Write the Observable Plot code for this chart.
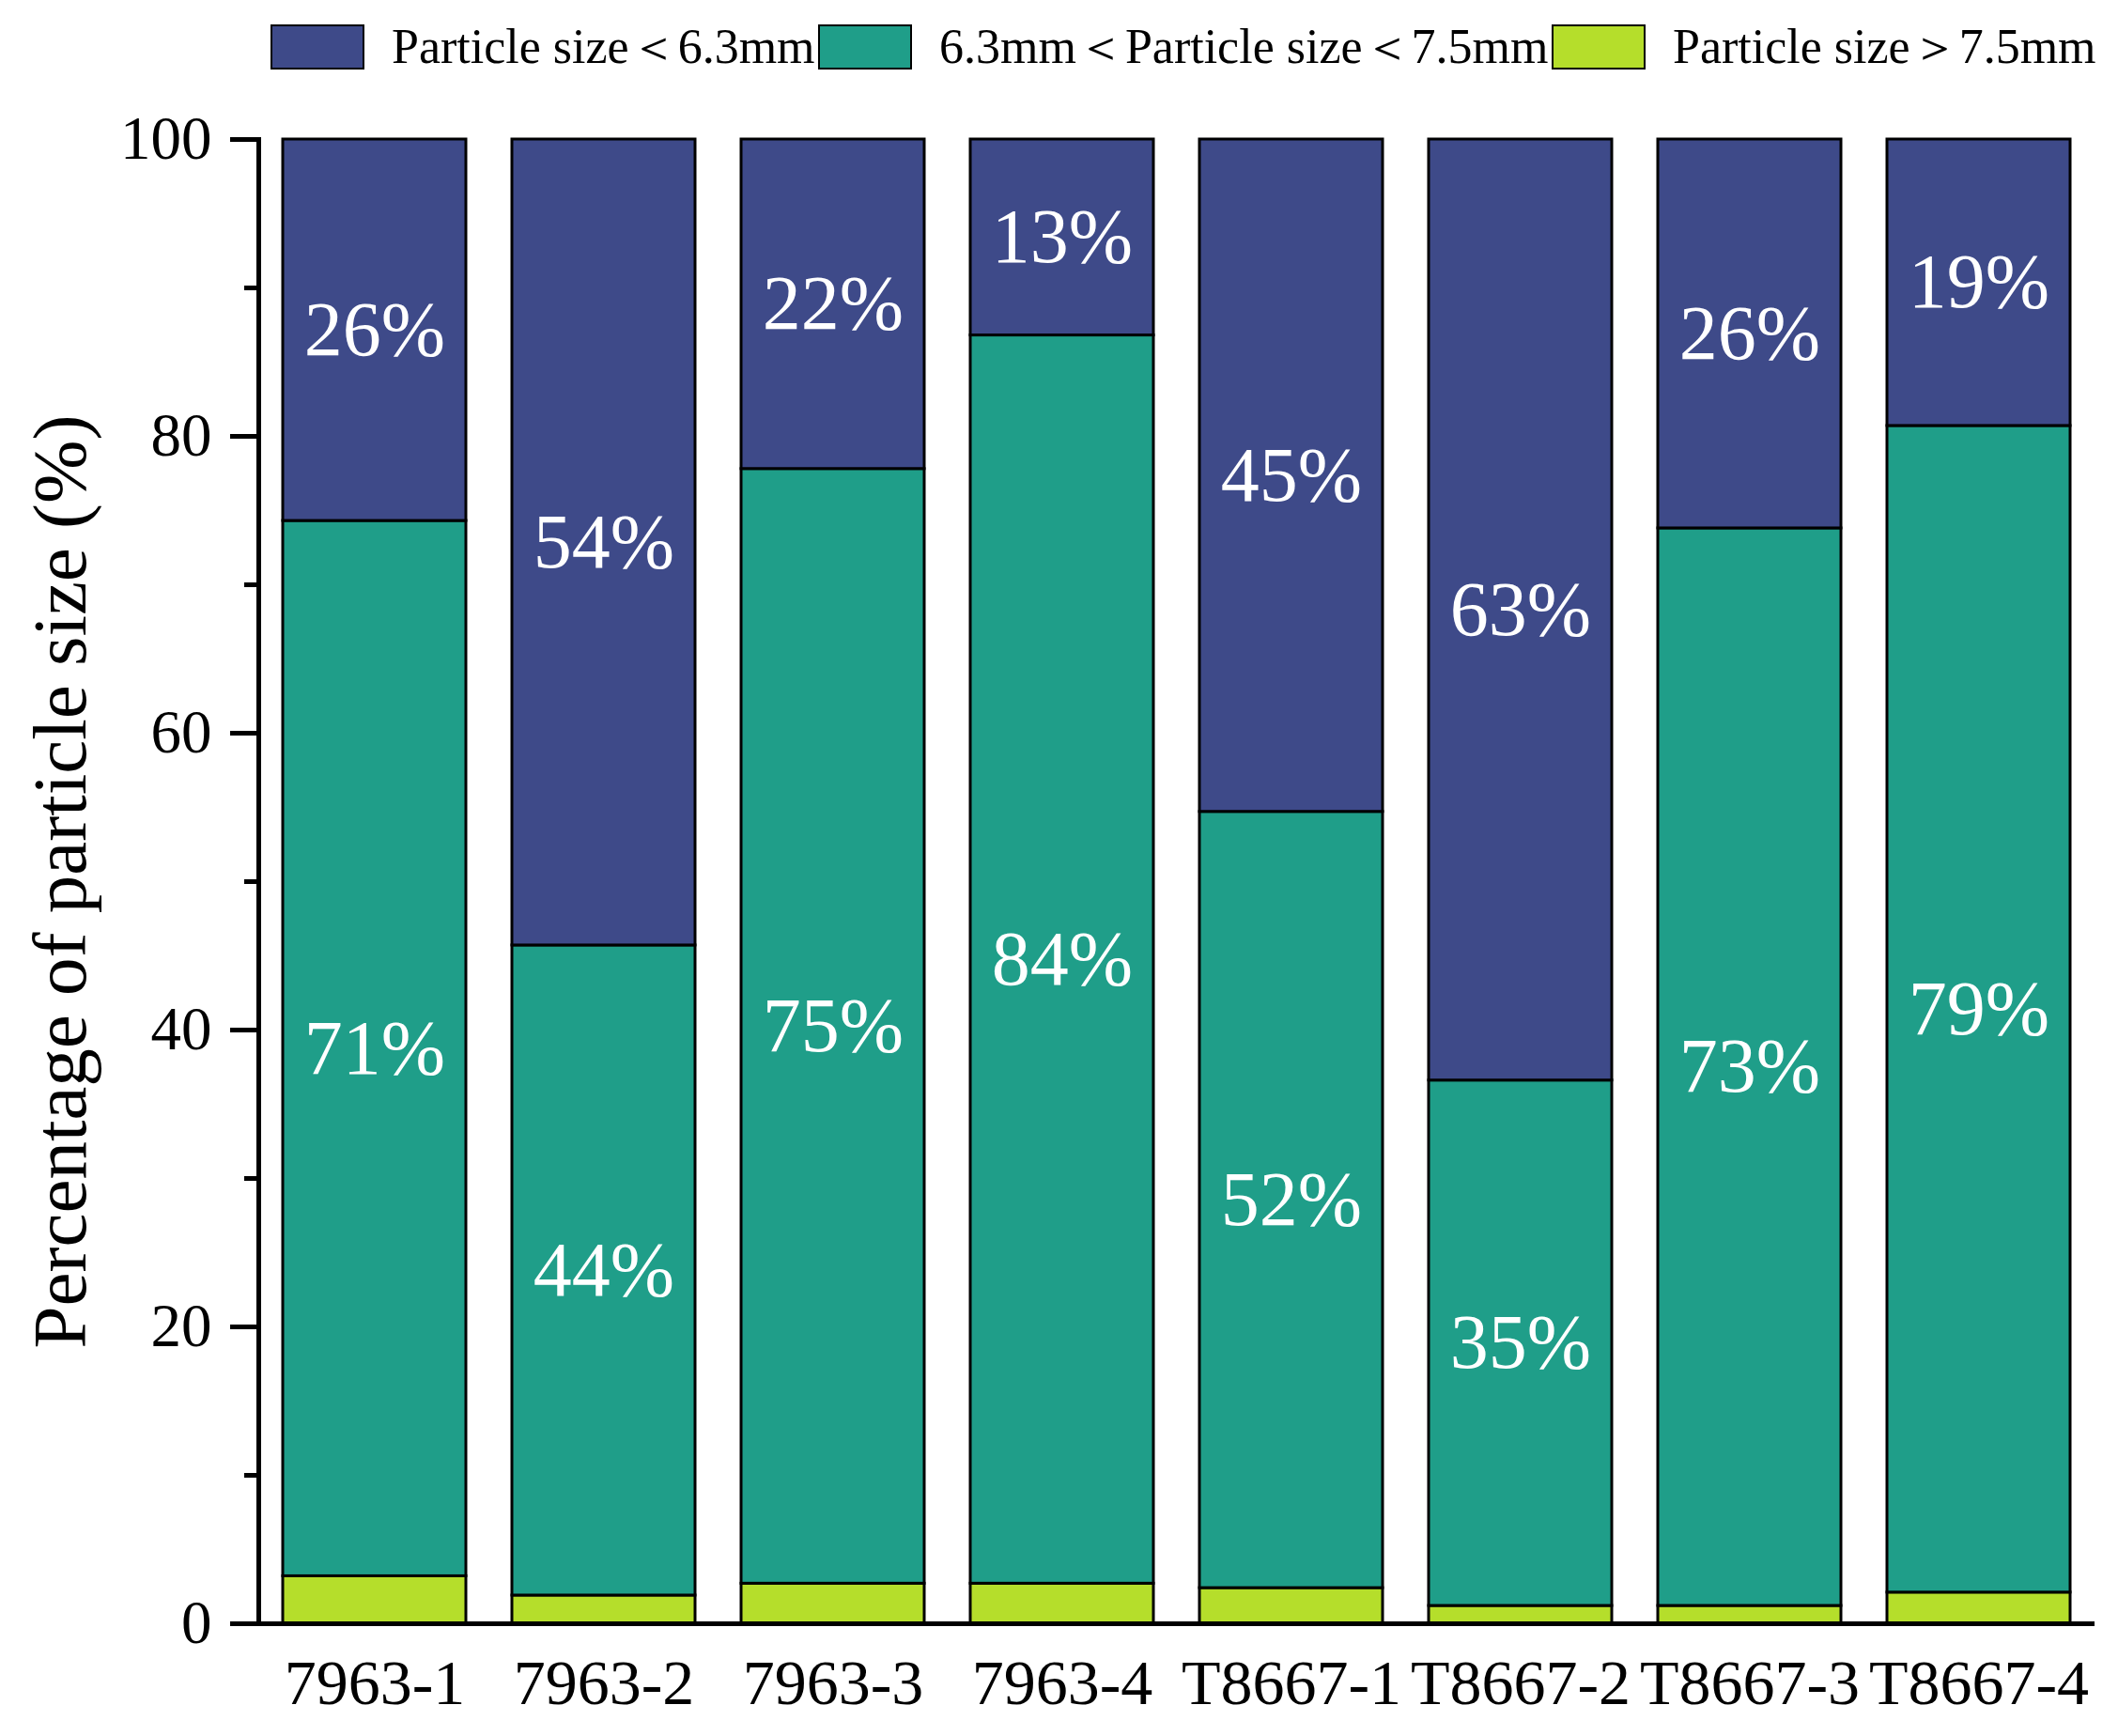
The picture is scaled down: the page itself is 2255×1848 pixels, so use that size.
<!DOCTYPE html>
<html>
<head>
<meta charset="utf-8">
<script src="https://cdn.jsdelivr.net/npm/d3@7"></script>
<script src="https://cdn.jsdelivr.net/npm/@observablehq/plot@0.6"></script>
<style>
  body { margin: 0; background: #fff; font-family: "Liberation Serif", "Times New Roman", serif; }
  #legend { position: relative; width: 2255px; height: 100px; }
  .sw { position: absolute; top: 26px; width: 100px; height: 48px; box-sizing: border-box; border: 2.5px solid #000; }
  .lb { position: absolute; top: 0; line-height: 100px; font-size: 52px; white-space: nowrap; color: #000; }
  #chart svg, #chart svg text { font-family: "Liberation Serif", "Times New Roman", serif !important; }
</style>
</head>
<body>
<div id="legend"></div>
<div id="chart"></div>
<script>
// samples on the x axis
const samples = ["7963-1", "7963-2", "7963-3", "7963-4", "T8667-1", "T8667-2", "T8667-3", "T8667-4"];

// size classes, top of the stack first (legend order)
const classes = ["Particle size＜6.3mm", "6.3mm＜Particle size＜7.5mm", "Particle size＞7.5mm"];
const colors = ["#3e4a89", "#1f9e89", "#b5de2b"];

// percentages
const fine = [25.7, 54.3, 22.2, 13.2, 45.3, 63.4, 26.2, 19.3];   // < 6.3mm
const medium = [71.1, 43.8, 75.1, 84.1, 52.3, 35.4, 72.6, 78.6]; // 6.3 - 7.5mm
const coarse = [3.2, 1.9, 2.7, 2.7, 2.4, 1.2, 1.2, 2.1];         // > 7.5mm

const yTicks = [0, 20, 40, 60, 80, 100];
const yMinorTicks = [10, 30, 50, 70, 90];
const yLabel = "Percentage of particle size (%)";
const serif = "Liberation Serif, Times New Roman, serif";

// long table, bottom of the stack first
const rows = [];
samples.forEach((s, i) => {
  rows.push({sample: s, cls: classes[2], value: coarse[i]});
  rows.push({sample: s, cls: classes[1], value: medium[i]});
  rows.push({sample: s, cls: classes[0], value: fine[i]});
});

// legend
const legend = document.getElementById("legend");
const legendLeft = [288, 871, 1652];
classes.forEach((c, i) => {
  const sw = document.createElement("div");
  sw.className = "sw";
  sw.style.left = legendLeft[i] + "px";
  sw.style.background = colors[i];
  legend.appendChild(sw);
  const lb = document.createElement("div");
  lb.className = "lb";
  lb.style.left = (legendLeft[i] + 129) + "px";
  lb.textContent = c;
  legend.appendChild(lb);
});

const chart = Plot.plot({
  width: 2255,
  height: 1748,
  marginLeft: 275,
  marginRight: 25,
  marginTop: 48,
  marginBottom: 120,
  style: {fontFamily: serif, fontSize: "62px", color: "#000", background: "#fff"},
  x: {domain: samples, paddingInner: 0.2, paddingOuter: 0.1, label: null},
  y: {domain: [0, 100], label: null},
  color: {domain: classes, range: colors},
  marks: [
    Plot.barY(rows, {x: "sample", y: "value", fill: "cls", stroke: "#000", strokeWidth: 3}),
    Plot.text(rows, Plot.stackY({
      x: "sample",
      y: "value",
      z: "cls",
      text: (d) => d.cls === classes[2] ? null : `${Math.round(d.value)}%`,
      fill: "#fff",
      fontSize: 82,
      fontFamily: serif
    })),
    Plot.axisY({ticks: yTicks, tickSize: 30, tickPadding: 20, strokeWidth: 5, fontSize: 65, fontFamily: serif}),
    Plot.axisY({ticks: yMinorTicks, tickSize: 15, tickFormat: () => "", strokeWidth: 5}),
    Plot.axisX({tickSize: 0, tickPadding: 37, fontSize: 68, fontFamily: serif}),
    Plot.frame({anchor: "left", strokeWidth: 5}),
    Plot.ruleY([0], {insetLeft: -30, strokeWidth: 5}),
    Plot.text([yLabel], {
      text: (d) => d,
      frameAnchor: "left",
      textAnchor: "middle",
      rotate: -90,
      dx: -210,
      fontSize: 81,
      fontFamily: serif
    })
  ]
});

document.getElementById("chart").appendChild(chart);
</script>
</body>
</html>
